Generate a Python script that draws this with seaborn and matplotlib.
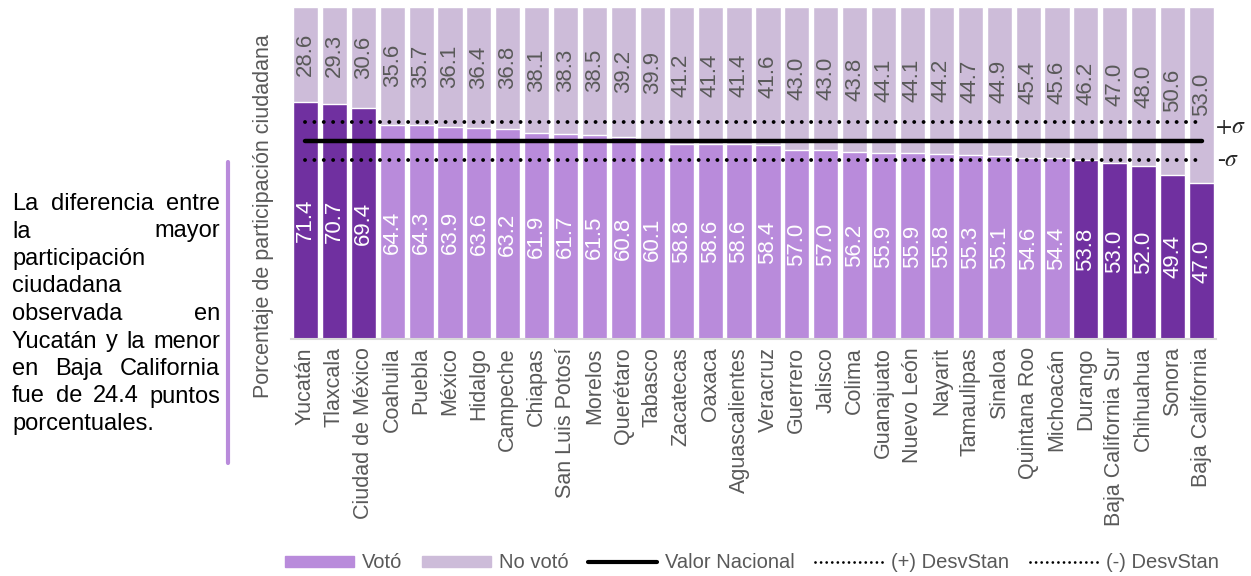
import matplotlib
matplotlib.use("Agg")
import matplotlib.pyplot as plt
import seaborn as sns
import pandas as pd
from matplotlib.patches import Patch
from matplotlib.lines import Line2D
from matplotlib.font_manager import FontProperties

# datos
estados = ["Yucatán", "Tlaxcala", "Ciudad de México", "Coahuila", "Puebla", "México",
           "Hidalgo", "Campeche", "Chiapas", "San Luis Potosí", "Morelos", "Querétaro",
           "Tabasco", "Zacatecas", "Oaxaca", "Aguascalientes", "Veracruz", "Guerrero",
           "Jalisco", "Colima", "Guanajuato", "Nuevo León", "Nayarit", "Tamaulipas",
           "Sinaloa", "Quintana Roo", "Michoacán", "Durango", "Baja California Sur",
           "Chihuahua", "Sonora", "Baja California"]
voto = [71.4, 70.7, 69.4, 64.4, 64.3, 63.9, 63.6, 63.2, 61.9, 61.7, 61.5, 60.8,
        60.1, 58.8, 58.6, 58.6, 58.4, 57.0, 57.0, 56.2, 55.9, 55.9, 55.8, 55.3,
        55.1, 54.6, 54.4, 53.8, 53.0, 52.0, 49.4, 47.0]
no_voto = [28.6, 29.3, 30.6, 35.6, 35.7, 36.1, 36.4, 36.8, 38.1, 38.3, 38.5, 39.2,
           39.9, 41.2, 41.4, 41.4, 41.6, 43.0, 43.0, 43.8, 44.1, 44.1, 44.2, 44.7,
           44.9, 45.4, 45.6, 46.2, 47.0, 48.0, 50.6, 53.0]
destacados = ["Yucatán", "Tlaxcala", "Ciudad de México", "Durango",
              "Baja California Sur", "Chihuahua", "Sonora", "Baja California"]
valor_nacional = 59.5
mas_sigma = 65.2
menos_sigma = 53.8

nota = ["La diferencia entre", "la mayor", "participación", "ciudadana", "observada en",
        "Yucatán y la menor", "en Baja California", "fue de 24.4 puntos", "porcentuales."]
justificar = [True, True, False, False, True, True, True, True, False]

OSCURO = "#7030A0"
CLARO = "#B98BDB"
NO_VOTO = "#CDBCD9"
GRIS = "#595959"

sns.set_theme(style="white")
plt.rcParams['font.family'] = ['Liberation Sans', 'DejaVu Sans']
plt.rcParams['mathtext.fontset'] = 'stix'

df = pd.DataFrame({"estado": estados, "voto": voto, "no_voto": no_voto})
df["total"] = df["voto"] + df["no_voto"]

W, H = 1251, 576
fig = plt.figure(figsize=(W / 100, H / 100), dpi=100)
ax = fig.add_axes([291 / W, 1 - 339 / H, 925 / W, 332.3 / H])

# barras apiladas: total (no voto) detras, voto al frente
sns.barplot(data=df, x="estado", y="total", color=NO_VOTO, width=0.87,
            saturation=1, ax=ax)
paleta = {e: (OSCURO if e in destacados else CLARO) for e in estados}
sns.barplot(data=df, x="estado", y="voto", hue="estado", palette=paleta,
            width=0.87, saturation=1, legend=False, ax=ax)

for i, row in df.iterrows():
    ax.text(i, row["voto"] / 2, f"{row['voto']:.1f}", rotation=90, ha="center",
            va="center", color="white", fontsize=16)
    ax.text(i, row["voto"] + row["no_voto"] / 2, f"{row['no_voto']:.1f}", rotation=90,
            ha="center", va="center", color=GRIS, fontsize=16)

n = len(estados) - 1
ax.plot([0, n], [valor_nacional] * 2, color="black", lw=3.2, solid_capstyle="round")
punteado = dict(color="black", lw=2.8, linestyle=(0, (0.01, 2.4)), dash_capstyle="round")
ax.plot([0, n], [mas_sigma] * 2, **punteado)
ax.plot([0, n], [menos_sigma] * 2, **punteado)
ax.text(n + 0.45, 63.7, r"$+\sigma$", fontsize=17, ha="left", va="center", clip_on=False)
ax.text(n + 0.55, menos_sigma, r"-$\sigma$", fontsize=17, ha="left", va="center",
        clip_on=False, family="Liberation Serif", style="italic")

ax.set_ylim(0, 100)
ax.set_xlim(-0.5, n + 0.5)
ax.set_yticks([])
ax.set_xlabel("")
ax.set_ylabel("Porcentaje de participación ciudadana", fontsize=15.5, color=GRIS)
ax.yaxis.set_label_coords(-0.018, 0.37)
ax.tick_params(axis="x", rotation=90, labelsize=15.5, labelcolor=GRIS, length=0, pad=6)
sns.despine(ax=ax, left=True)
ax.spines["bottom"].set_color("#D9D9D9")
ax.spines["bottom"].set_linewidth(1.5)

# leyenda
handles = [Patch(color=CLARO), Patch(color=NO_VOTO),
           Line2D([], [], color="black", lw=3),
           Line2D([], [], color="black", lw=2, linestyle=(0, (0.01, 2.0)), dash_capstyle="round"),
           Line2D([], [], color="black", lw=2, linestyle=(0, (0.01, 2.0)), dash_capstyle="round")]
labels = ["Votó", "No votó", "Valor Nacional", "(+) DesvStan", "(-) DesvStan"]
fig.legend(handles, labels, loc="center", bbox_to_anchor=(752 / W, 1 - 563 / H),
           ncol=5, frameon=False, fontsize=14.5, labelcolor=GRIS, handlelength=3.4,
           handleheight=0.5, handletextpad=0.4, columnspacing=1.0)

# nota lateral con texto justificado
fp = FontProperties(family="Liberation Sans", size=17)
renderer = fig.canvas.get_renderer()
x0, x1 = 12, 220
for k, (linea, just) in enumerate(zip(nota, justificar)):
    y = 1 - (210 + k * 27.5) / H
    palabras = linea.split()
    if not just or len(palabras) == 1:
        fig.text(x0 / W, y, linea, fontproperties=fp, va="baseline", color="black")
        continue
    anchos = [renderer.get_text_width_height_descent(p, fp, ismath=False)[0] for p in palabras]
    hueco = (x1 - x0 - sum(anchos)) / (len(palabras) - 1)
    x = x0
    for p, a in zip(palabras, anchos):
        fig.text(x / W, y, p, fontproperties=fp, va="baseline", color="black")
        x += a + hueco
fig.add_artist(Line2D([228 / W] * 2, [1 - 162 / H, 1 - 463 / H], transform=fig.transFigure,
                      color=CLARO, lw=3))

fig.savefig("out.png", dpi=100)
